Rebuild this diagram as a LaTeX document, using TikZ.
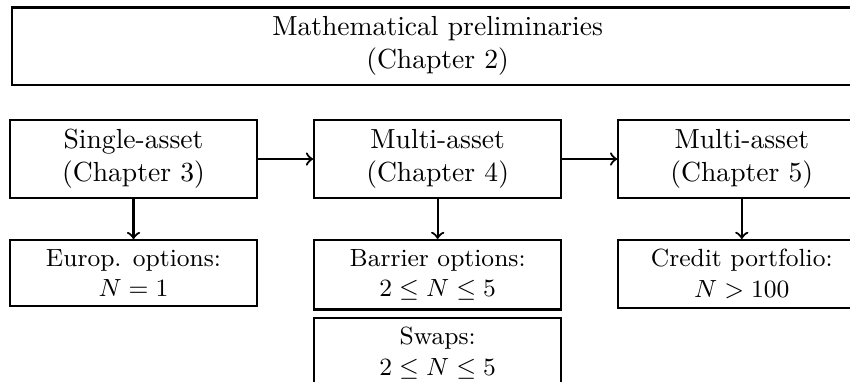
\documentclass[tikz,border=0pt]{standalone}
\usepackage{amsmath}
\usepackage{amssymb}
\usetikzlibrary{positioning}
\tikzset{
  chapbox/.style={draw, thick, align=center, minimum width=3.145cm},
  appbox/.style={draw, thick, align=center, font=\small, minimum width=3.145cm},
  link/.style={->, thick}
}
\begin{document}
\begin{tikzpicture}
  \useasboundingbox (0,0) rectangle (10.824,-4.864);
  \clip (0,0) rectangle (10.824,-4.864);

  % the three chapters
  \node[chapbox] (single) at (1.700,-2.025) {Single-asset\\(Chapter 3)};
  \node[chapbox, right=0.7cm of single] (multi4) {Multi-asset\\(Chapter 4)};
  \node[chapbox, right=0.7cm of multi4] (multi5) {Multi-asset\\(Chapter 5)};

  % foundations, across all three
  \node[chapbox, minimum width=10.84cm, above=0.42cm of multi4] (prelim)
    {Mathematical preliminaries\\(Chapter 2)};

  % applications
  \node[appbox, below=0.51cm of single] (europ) {Europ. options:\\$N=1$};
  \node[appbox, below=0.51cm of multi4] (barrier) {Barrier options:\\$2\leq N\leq 5$};
  \node[appbox, below=0.08cm of barrier] (swaps) {Swaps:\\$2\leq N\leq 5$};
  \node[appbox, below=0.51cm of multi5] (credit) {Credit portfolio:\\$N>100$};

  \draw[link] (single) -- (multi4);
  \draw[link] (multi4) -- (multi5);
  \draw[link] (single) -- (europ);
  \draw[link] (multi4) -- (barrier);
  \draw[link] (multi5) -- (credit);
\end{tikzpicture}
\end{document}
